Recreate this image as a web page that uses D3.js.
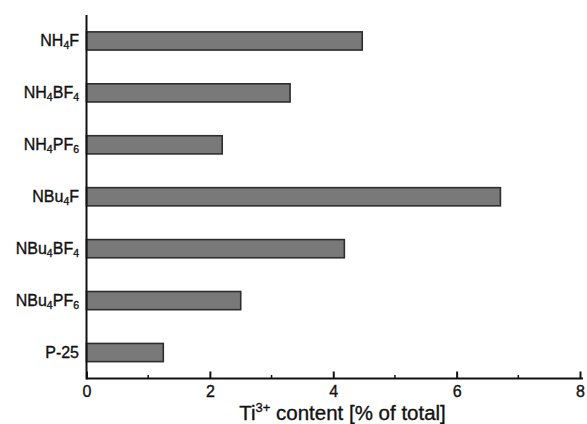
<!DOCTYPE html>
<html><head><meta charset="utf-8">
<script src="https://cdn.jsdelivr.net/npm/d3@7"></script>
<style>body{margin:0;background:#fff}svg{display:block}text{font-family:"Liberation Sans",Arial,sans-serif;fill:#111;stroke:#111;stroke-width:0.35px}</style>
</head><body><svg id="c" width="587" height="424"></svg>
<script>
const categories = [
  [["NH",""],["4","sub"],["F",""]],
  [["NH",""],["4","sub"],["BF",""],["4","sub"]],
  [["NH",""],["4","sub"],["PF",""],["6","sub"]],
  [["NBu",""],["4","sub"],["F",""]],
  [["NBu",""],["4","sub"],["BF",""],["4","sub"]],
  [["NBu",""],["4","sub"],["PF",""],["6","sub"]],
  [["P-25",""]]
];
const values = [4.47, 3.30, 2.20, 6.71, 4.18, 2.50, 1.245];
const xTicks = [0, 2, 4, 6, 8];
const xMinorTicks = [1, 3, 5, 7];

const svg = d3.select("#c");
const x = d3.scaleLinear().domain([0, 8]).range([86.5, 580]);
const idx = d3.range(categories.length);
const y = d3.scaleBand().domain(idx).range([15, 378.5]).paddingInner(0.65).paddingOuter(0.325);

// bars
svg.append("g").selectAll("rect").data(values).join("rect")
  .attr("x", x(0)).attr("y", (d,i)=>y(i))
  .attr("width", d=>x(d)-x(0)).attr("height", y.bandwidth())
  .attr("fill", "#797979").attr("stroke", "#2e2e2e").attr("stroke-width", 1.6);

// x axis
const xa = svg.append("g").attr("transform", `translate(0,${y.range()[1]})`);
xa.call(d3.axisBottom(x).tickValues(xTicks).tickSize(-7).tickFormat(d3.format("d")));
xa.select(".domain").attr("d", `M${x(0)},0H583`).attr("stroke","#111").attr("stroke-width",2);
xa.selectAll(".tick line").attr("stroke","#111").attr("stroke-width",2);
xa.selectAll(".tick text").attr("font-size", 16).attr("fill","#111").attr("y", 18.5).attr("dy", 0);
xa.selectAll(".minor").data(xMinorTicks).join("line").attr("class","minor")
  .attr("x1", d=>x(d)).attr("x2", d=>x(d)).attr("y1",0).attr("y2",-3.5)
  .attr("stroke","#111").attr("stroke-width",1.5);

// y axis
svg.append("line").attr("x1", x(0)).attr("x2", x(0)).attr("y1", y.range()[0]).attr("y2", y.range()[1]+1)
  .attr("stroke","#111").attr("stroke-width",2);

// y labels
const lab = svg.append("g").selectAll("text").data(categories).join("text")
  .attr("x", 79).attr("y", (d,i)=>y(i)+y.bandwidth()/2 + 5.5)
  .attr("text-anchor","end").attr("font-size", 16);
lab.each(function(parts){
  const t = d3.select(this);
  let shifted = false;
  parts.forEach(([s,k])=>{
    const ts = t.append("tspan").text(s);
    if(k==="sub"){ ts.attr("font-size", 10.5).attr("dy", shifted ? 0 : 3); shifted = true; }
    else { ts.attr("dy", shifted ? -3 : 0); shifted = false; }
  });
});

// x title
const title = svg.append("text").attr("x", 342.5).attr("y", 419.5).attr("text-anchor","middle").attr("font-size", 20.5);
title.append("tspan").text("Ti");
title.append("tspan").text("3+").attr("font-size", 13).attr("dy", -8);
title.append("tspan").text(" content [% of total]").attr("dy", 8);
</script></body></html>
